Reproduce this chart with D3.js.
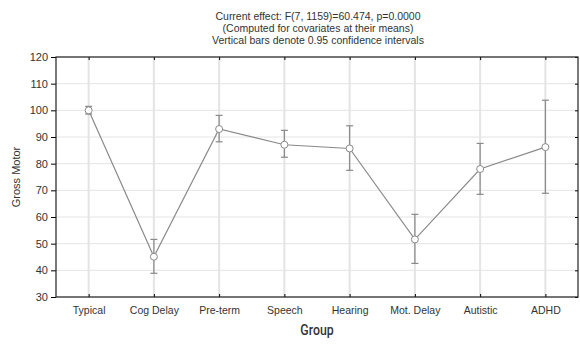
<!DOCTYPE html>
<html>
<head>
<meta charset="utf-8">
<script src="https://cdn.jsdelivr.net/npm/d3@7"></script>
<style>
  body { margin: 0; background: #fff; }
  text { font-family: "Liberation Sans", Arial, sans-serif; fill: #333; }
</style>
</head>
<body>
<div id="chart"></div>
<script>
// data
const groups = ['Typical', 'Cog Delay', 'Pre-term', 'Speech', 'Hearing', 'Mot. Delay', 'Autistic', 'ADHD'];
const means = [100.0, 45.1, 93.0, 87.1, 85.7, 51.6, 78.0, 86.2];
const ciLow = [98.6, 38.9, 88.2, 82.4, 77.5, 42.6, 68.5, 68.9];
const ciHigh = [101.5, 51.6, 98.1, 92.5, 94.2, 61.0, 87.6, 103.8];
const yTicks = [30, 40, 50, 60, 70, 80, 90, 100, 110, 120];
const titleLines = [
    'Current effect: F(7, 1159)=60.474, p=0.0000',
    '(Computed for covariates at their means)',
    'Vertical bars denote 0.95 confidence intervals',
];

// set the dimensions and margins of the graph
const margin = { top: 57, right: 2, bottom: 49, left: 56 };
const width = 580 - margin.left - margin.right;
const height = 346 - margin.top - margin.bottom;

const svgRoot = d3.select('#chart')
    .append('svg')
    .attr('width', 580)
    .attr('height', 346);

const svg = svgRoot.append('g')
    .attr('transform', 'translate(' + margin.left + ',' + margin.top + ')');

const data = groups.map((g, i) => ({ group: g, mean: means[i], lo: ciLow[i], hi: ciHigh[i] }));

const x = d3.scalePoint()
    .domain(groups)
    .range([0, width])
    .padding(0.5);

const y = d3.scaleLinear()
    .domain([30, 120])
    .range([height, 0]);

// grid
svg.append('g').selectAll('line')
    .data(yTicks)
    .enter()
    .append('line')
    .attr('x1', 0).attr('x2', width)
    .attr('y1', d => y(d)).attr('y2', d => y(d))
    .attr('stroke', '#e4e4e4')
    .attr('stroke-width', 1);

svg.append('g').selectAll('line')
    .data(groups)
    .enter()
    .append('line')
    .attr('x1', d => x(d)).attr('x2', d => x(d))
    .attr('y1', 0).attr('y2', height)
    .attr('stroke', '#e4e4e4')
    .attr('stroke-width', 2);

// axes
const yAxis = svg.append('g')
    .call(d3.axisLeft(y).tickValues(yTicks).tickSize(5).tickPadding(3));
yAxis.select('.domain').remove();
yAxis.selectAll('text').style('font-size', '11px').attr('fill', '#333');

const yAxisR = svg.append('g')
    .attr('transform', 'translate(' + width + ',0)')
    .call(d3.axisLeft(y).tickValues(yTicks).tickSize(3).tickFormat(''));
yAxisR.select('.domain').remove();

const xAxis = svg.append('g')
    .attr('transform', 'translate(0,' + height + ')')
    .call(d3.axisTop(x).tickSize(3).tickFormat(''));
xAxis.select('.domain').remove();

const xLabels = svg.append('g')
    .attr('transform', 'translate(0,' + height + ')')
    .call(d3.axisBottom(x).tickSize(0).tickPadding(10));
xLabels.select('.domain').remove();
xLabels.selectAll('text').style('font-size', '10.5px').attr('fill', '#333');

const xAxisTop = svg.append('g')
    .call(d3.axisBottom(x).tickSize(3).tickFormat(''));
xAxisTop.select('.domain').remove();

// frame
svg.append('rect')
    .attr('x', 0).attr('y', 0)
    .attr('width', width).attr('height', height)
    .attr('fill', 'none')
    .attr('stroke', '#222')
    .attr('stroke-width', 1.2);

// error bars
const eb = svg.append('g')
    .attr('stroke', '#8a8a8a')
    .attr('stroke-width', 1.2);
eb.selectAll('.v')
    .data(data).enter().append('line')
    .attr('x1', d => x(d.group)).attr('x2', d => x(d.group))
    .attr('y1', d => y(d.lo)).attr('y2', d => y(d.hi));
eb.selectAll('.t')
    .data(data).enter().append('line')
    .attr('x1', d => x(d.group) - 3.5).attr('x2', d => x(d.group) + 3.5)
    .attr('y1', d => y(d.hi)).attr('y2', d => y(d.hi));
eb.selectAll('.b')
    .data(data).enter().append('line')
    .attr('x1', d => x(d.group) - 3.5).attr('x2', d => x(d.group) + 3.5)
    .attr('y1', d => y(d.lo)).attr('y2', d => y(d.lo));

// the line
svg.append('path')
    .datum(data)
    .attr('fill', 'none')
    .attr('stroke', '#8a8a8a')
    .attr('stroke-width', 1.2)
    .attr('d', d3.line()
        .x(d => x(d.group))
        .y(d => y(d.mean)));

// points
svg.append('g').selectAll('circle')
    .data(data).enter().append('circle')
    .attr('cx', d => x(d.group))
    .attr('cy', d => y(d.mean))
    .attr('r', 3.5)
    .attr('fill', '#fff')
    .attr('stroke', '#8a8a8a')
    .attr('stroke-width', 1);

// titles
svgRoot.append('g').selectAll('text')
    .data(titleLines).enter().append('text')
    .attr('x', 318)
    .attr('y', (d, i) => 20 + i * 12)
    .attr('text-anchor', 'middle')
    .style('font-size', '10.5px')
    .text(d => d);

svgRoot.append('text')
    .attr('transform', 'translate(20,' + (margin.top + height / 2) + ') rotate(-90)')
    .attr('text-anchor', 'middle')
    .style('font-size', '11px')
    .text('Gross Motor');

svgRoot.append('text')
    .attr('transform', 'translate(' + (margin.left + width / 2) + ',335) scale(0.82,1)')
    .attr('text-anchor', 'middle')
    .style('font-size', '15px')
    .style('font-family', 'Roboto, "Liberation Sans", Arial, sans-serif')
    .style('font-weight', '500')
    .text('Group');
</script>
</body>
</html>
